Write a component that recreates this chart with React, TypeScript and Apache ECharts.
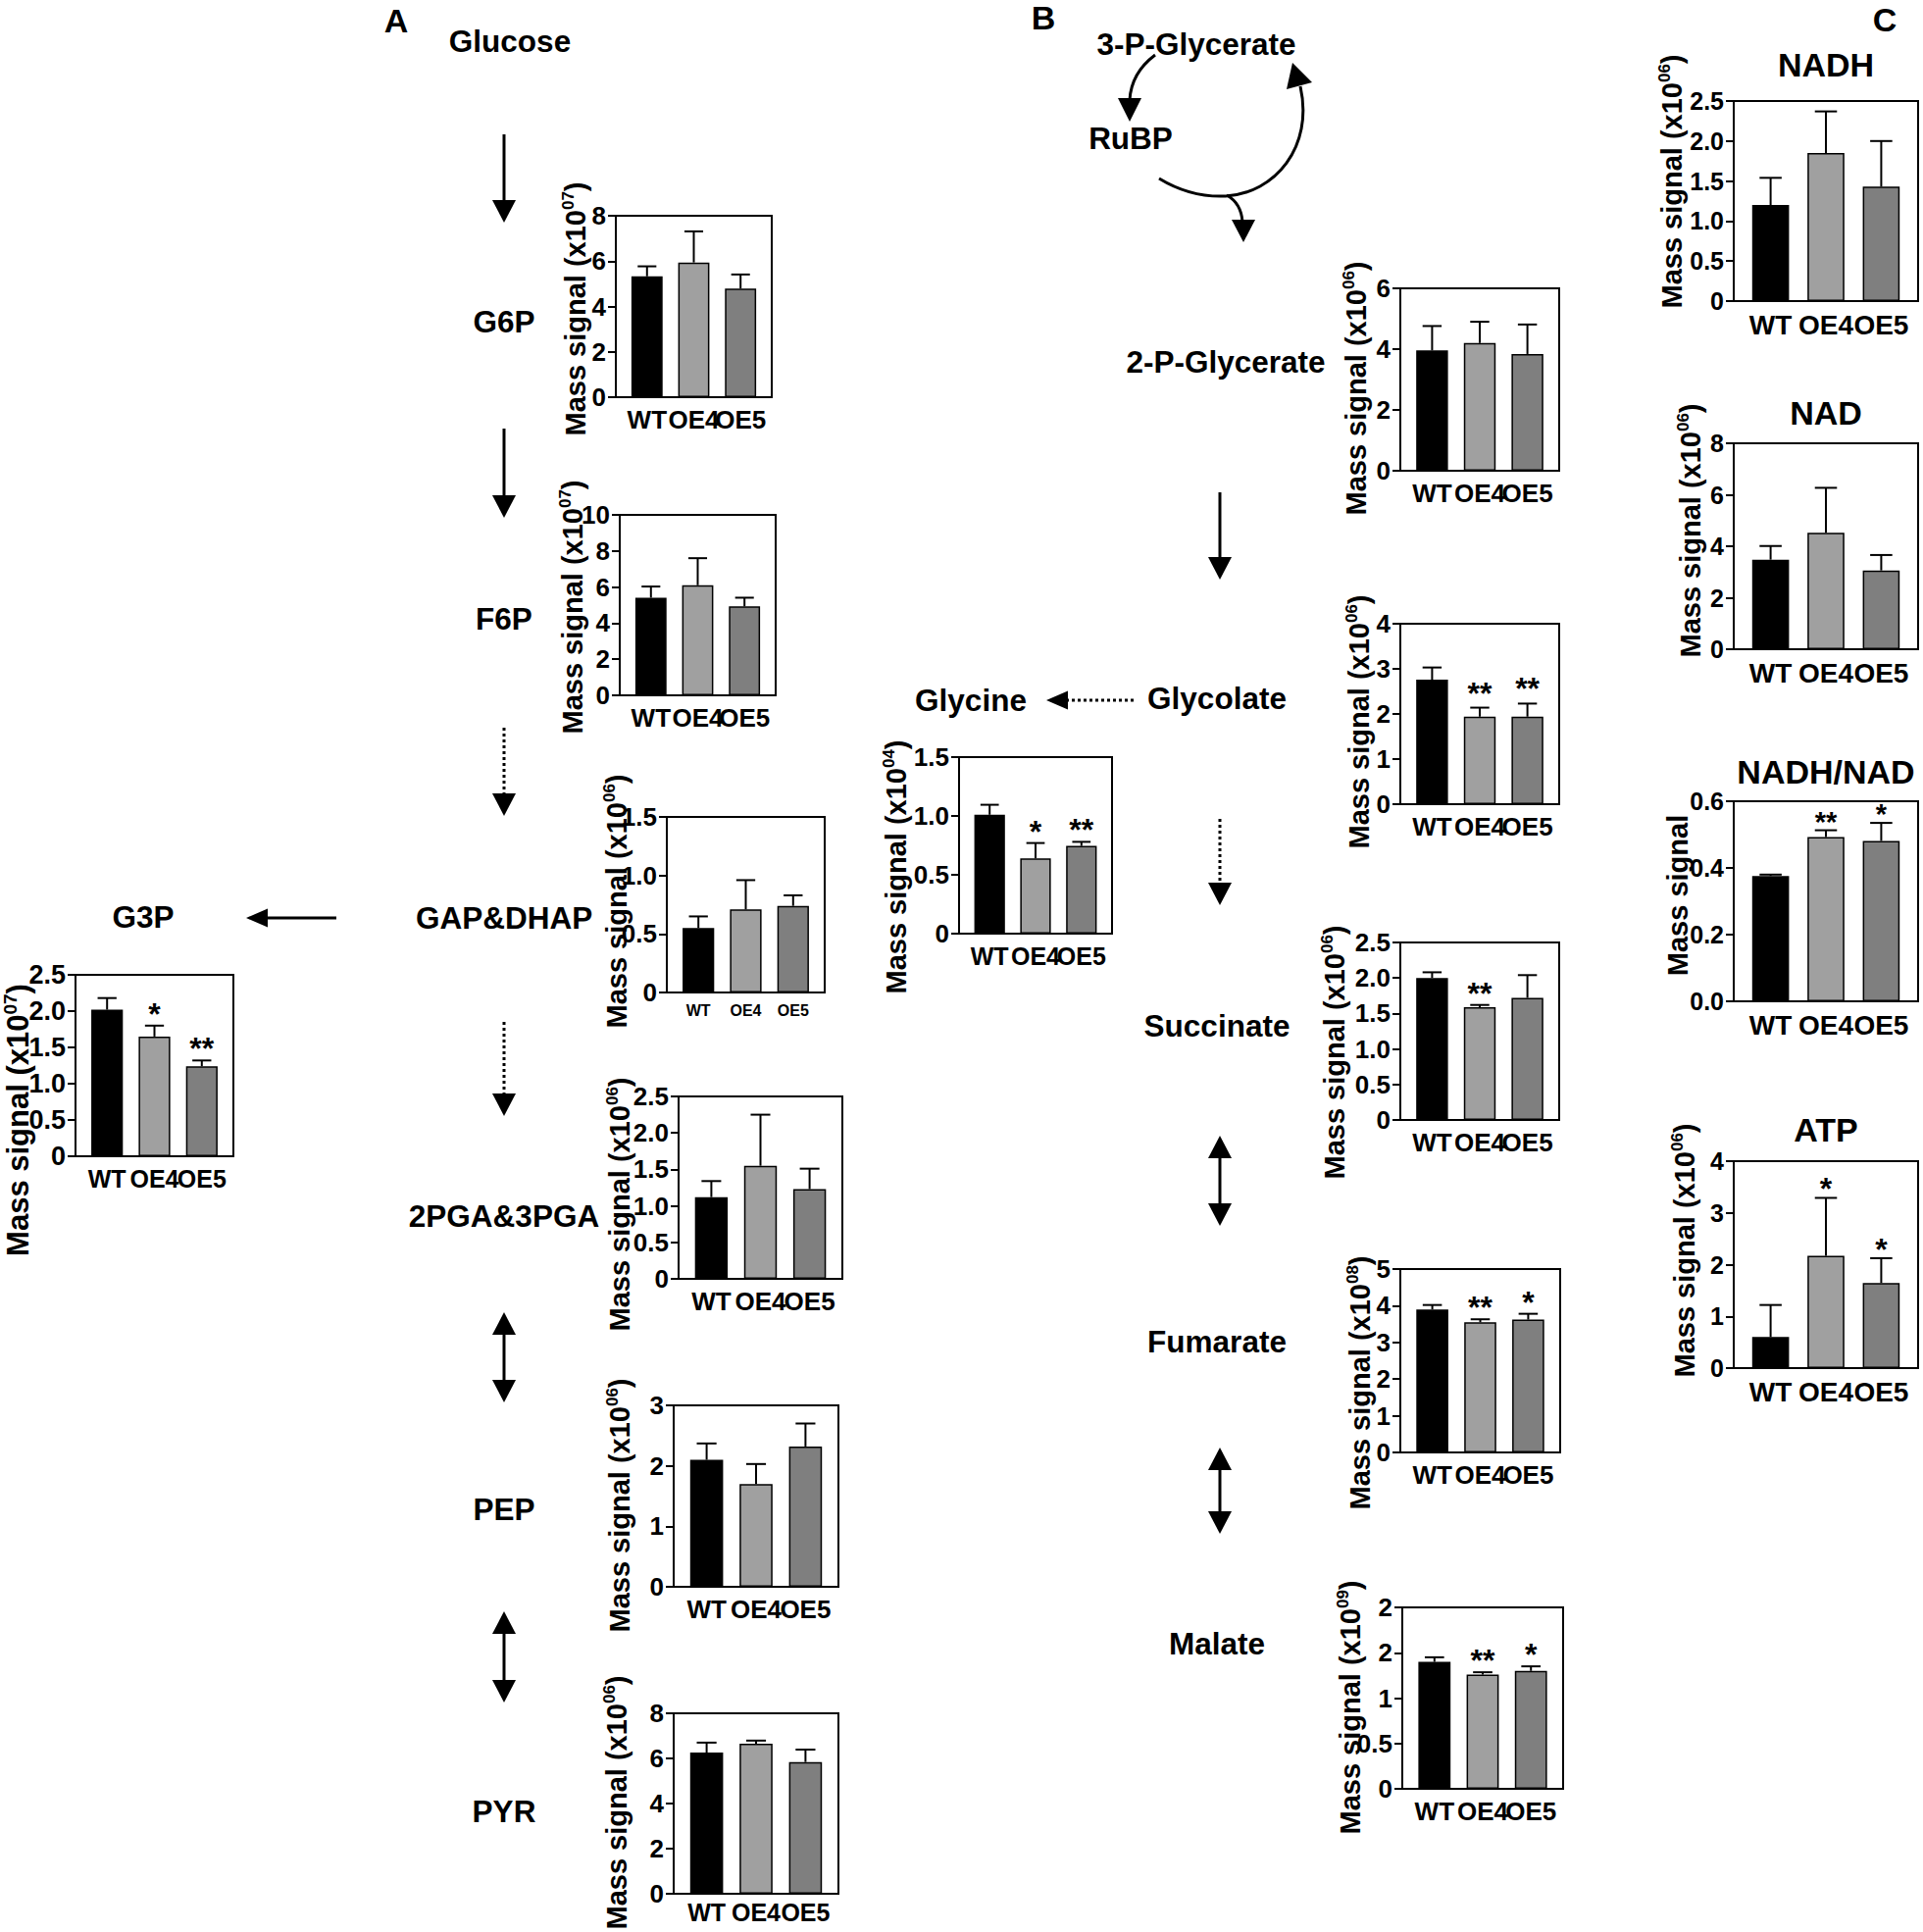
import React, { useEffect, useRef } from "react";
import * as echarts from "echarts";

const FF = "'Liberation Sans', Arial, Helvetica, sans-serif";

// ---------- data ----------
const groups = ["WT", "OE4", "OE5"];
const barColors = ["#000000", "#a0a0a0", "#7f7f7f"];

const g6pMean = [5.33, 5.94, 4.79];
const g6pErr = [0.44, 1.37, 0.62];
const f6pMean = [5.41, 6.1, 4.93];
const f6pErr = [0.62, 1.5, 0.48];
const gapMean = [0.55, 0.71, 0.74];
const gapErr = [0.1, 0.25, 0.09];
const g3pMean = [2.02, 1.65, 1.24];
const g3pErr = [0.16, 0.15, 0.08];
const g3pStars = ["", "*", "**"];
const pgaMean = [1.12, 1.55, 1.23];
const pgaErr = [0.22, 0.7, 0.28];
const pepMean = [2.1, 1.7, 2.32];
const pepErr = [0.27, 0.33, 0.38];
const pyrMean = [6.26, 6.65, 5.84];
const pyrErr = [0.44, 0.14, 0.55];

const glycineMean = [1.01, 0.64, 0.745];
const glycineErr = [0.085, 0.13, 0.035];
const glycineStars = ["", "*", "**"];
const pg2Mean = [3.96, 4.2, 3.84];
const pg2Err = [0.8, 0.7, 0.97];
const glycolateMean = [2.76, 1.94, 1.94];
const glycolateErr = [0.27, 0.2, 0.29];
const glycolateStars = ["", "**", "**"];
const succMean = [2.0, 1.59, 1.72];
const succErr = [0.08, 0.03, 0.32];
const succStars = ["", "**", ""];
const fumMean = [3.9, 3.55, 3.62];
const fumErr = [0.12, 0.08, 0.16];
const fumStars = ["", "**", "*"];
const malMean = [1.4, 1.26, 1.3];
const malErr = [0.05, 0.025, 0.05];
const malStars = ["", "**", "*"];

const nadhMean = [1.2, 1.85, 1.43];
const nadhErr = [0.34, 0.52, 0.57];
const nadMean = [3.48, 4.52, 3.06];
const nadErr = [0.53, 1.75, 0.6];
const ratioMean = [0.376, 0.493, 0.481];
const ratioErr = [0.004, 0.02, 0.054];
const ratioStars = ["", "**", "*"];
const atpMean = [0.6, 2.17, 1.645];
const atpErr = [0.62, 1.12, 0.48];
const atpStars = ["", "*", "*"];

const noStars = ["", "", ""];

// tick labels
const ticks0to8 = ["0", "2", "4", "6", "8"];
const ticks0to10 = ["0", "2", "4", "6", "8", "10"];
const ticks0to15 = ["0", "0.5", "1.0", "1.5"];
const ticks0to25 = ["0", "0.5", "1.0", "1.5", "2.0", "2.5"];
const ticks0to3 = ["0", "1", "2", "3"];
const ticks0to6 = ["0", "2", "4", "6"];
const ticks0to4 = ["0", "1", "2", "3", "4"];
const ticks0to5 = ["0", "1", "2", "3", "4", "5"];
const ticksMalate = ["0", "0.5", "1", "2", "2"];
const ticksRatio = ["0.0", "0.2", "0.4", "0.6"];

// ---------- layout ----------
// the bar area is inset 5% of the frame width on each side (GraphPad style spacing)
const INSET = 0.05;

type Spec = {
  mean: number[];
  err: number[];
  stars: string[];
  ticks: string[];
  max: number;
  step: number;
  exp: string | null;
  box: [number, number, number, number];
  name: [number, number];
  nameSize?: number;
  tickSize?: number;
  xSize?: number;
  xMargin?: number;
  starSize?: number;
  starOff?: number;
  title?: string;
  titlePos?: [number, number];
};

const specs: Spec[] = [
  { mean: g6pMean, err: g6pErr, stars: noStars, ticks: ticks0to8, max: 8, step: 2, exp: "07", box: [628, 220, 787, 405], name: [587, 315] },
  { mean: f6pMean, err: f6pErr, stars: noStars, ticks: ticks0to10, max: 10, step: 2, exp: "07", box: [632, 525, 791, 709], name: [584, 619] },
  { mean: gapMean, err: gapErr, stars: noStars, ticks: ticks0to15, max: 1.5, step: 0.5, exp: "06", box: [680, 833, 841, 1012], name: [629, 919], xSize: 16 },
  { mean: g3pMean, err: g3pErr, stars: g3pStars, ticks: ticks0to25, max: 2.5, step: 0.5, exp: "07", box: [77, 994, 238, 1179], name: [18, 1142], nameSize: 31, xSize: 25, tickSize: 27 },
  { mean: pgaMean, err: pgaErr, stars: noStars, ticks: ticks0to25, max: 2.5, step: 0.5, exp: "06", box: [692, 1118, 859, 1304], name: [632, 1228] },
  { mean: pepMean, err: pepErr, stars: noStars, ticks: ticks0to3, max: 3, step: 1, exp: "06", box: [687, 1433, 855, 1618], name: [632, 1535] },
  { mean: pyrMean, err: pyrErr, stars: noStars, ticks: ticks0to8, max: 8, step: 2, exp: "06", box: [687, 1747, 855, 1931], name: [629, 1838], xSize: 25, xMargin: 6 },
  { mean: glycineMean, err: glycineErr, stars: glycineStars, ticks: ticks0to15, max: 1.5, step: 0.5, exp: "04", box: [978, 772, 1134, 952], name: [914, 884], xSize: 25 },
  { mean: pg2Mean, err: pg2Err, stars: noStars, ticks: ticks0to6, max: 6, step: 2, exp: "06", box: [1428, 294, 1590, 480], name: [1383, 396] },
  { mean: glycolateMean, err: glycolateErr, stars: glycolateStars, ticks: ticks0to4, max: 4, step: 1, exp: "06", box: [1428, 636, 1590, 820], name: [1386, 736], starOff: 15 },
  { mean: succMean, err: succErr, stars: succStars, ticks: ticks0to25, max: 2.5, step: 0.5, exp: "06", box: [1428, 961, 1590, 1142], name: [1361, 1073] },
  { mean: fumMean, err: fumErr, stars: fumStars, ticks: ticks0to5, max: 5, step: 1, exp: "08", box: [1428, 1294, 1591, 1481], name: [1387, 1410] },
  { mean: malMean, err: malErr, stars: malStars, ticks: ticksMalate, max: 2, step: 0.5, exp: "09", box: [1430, 1639, 1594, 1824], name: [1377, 1741] },
  { mean: nadhMean, err: nadhErr, stars: noStars, ticks: ticks0to25, max: 2.5, step: 0.5, exp: "06", box: [1768, 103, 1956, 307], name: [1705, 185], title: "NADH", titlePos: [1862, 66], xSize: 28, tickSize: 25 },
  { mean: nadMean, err: nadErr, stars: noStars, ticks: ticks0to8, max: 8, step: 2, exp: "06", box: [1768, 452, 1956, 662], name: [1724, 541], title: "NAD", titlePos: [1862, 421], xSize: 28, tickSize: 25 },
  { mean: ratioMean, err: ratioErr, stars: ratioStars, ticks: ticksRatio, max: 0.6, step: 0.2, exp: null, box: [1768, 817, 1956, 1021], name: [1711, 913], title: "NADH/NAD", titlePos: [1862, 787], xSize: 28, tickSize: 25, starSize: 29, starOff: 9 },
  { mean: atpMean, err: atpErr, stars: atpStars, ticks: ticks0to4, max: 4, step: 1, exp: "06", box: [1768, 1184, 1956, 1395], name: [1718, 1275], title: "ATP", titlePos: [1862, 1152], xSize: 28, tickSize: 25, starOff: 9 },
];

// pathway labels
const labels: [string, number, number][] = [
  ["Glucose", 520, 42],
  ["G6P", 514, 328],
  ["F6P", 514, 631],
  ["GAP&DHAP", 514, 936],
  ["G3P", 146, 935],
  ["2PGA&3PGA", 514, 1240],
  ["PEP", 514, 1539],
  ["PYR", 514, 1847],
  ["3-P-Glycerate", 1220, 45],
  ["RuBP", 1153, 141],
  ["2-P-Glycerate", 1250, 369],
  ["Glycolate", 1241, 712],
  ["Glycine", 990, 714],
  ["Succinate", 1241, 1046],
  ["Fumarate", 1241, 1368],
  ["Malate", 1241, 1676],
];
const panelLetters: [string, number, number][] = [
  ["A", 404, 21],
  ["B", 1064, 18],
  ["C", 1922, 20],
];

// ---------- helpers ----------
const black = "#000";

function vArrow(x: number, y1: number, y2: number, dotted: boolean, dbl: boolean): any[] {
  const hl = 23;
  const hw = 12;
  const dir = y2 > y1 ? 1 : -1;
  const els: any[] = [];
  const ls = dbl ? y1 + dir * hl : y1;
  const le = y2 - dir * hl;
  els.push({
    type: "line",
    shape: { x1: x, y1: ls, x2: x, y2: le },
    style: { stroke: black, lineWidth: 3, lineDash: dotted ? [3, 3] : null },
  });
  els.push({
    type: "polygon",
    shape: { points: [[x, y2], [x - hw, y2 - dir * hl], [x + hw, y2 - dir * hl]] },
    style: { fill: black },
  });
  if (dbl) {
    els.push({
      type: "polygon",
      shape: { points: [[x, y1], [x - hw, y1 + dir * hl], [x + hw, y1 + dir * hl]] },
      style: { fill: black },
    });
  }
  return els;
}

function hArrow(x1: number, x2: number, y: number, dotted: boolean): any[] {
  const hl = 22;
  const hw = 9.5;
  const dir = x2 > x1 ? 1 : -1;
  return [
    {
      type: "line",
      shape: { x1: x1, y1: y, x2: x2 - dir * hl, y2: y },
      style: { stroke: black, lineWidth: 3, lineDash: dotted ? [3, 3] : null },
    },
    {
      type: "polygon",
      shape: { points: [[x2, y], [x2 - dir * hl, y - hw], [x2 - dir * hl, y + hw]] },
      style: { fill: black },
    },
  ];
}

function text(t: string, x: number, y: number, size: number): any {
  return {
    type: "text",
    x,
    y,
    style: {
      text: t,
      fill: black,
      fontSize: size,
      fontWeight: "bold",
      fontFamily: FF,
      align: "center",
      verticalAlign: "middle",
    },
  };
}

function errRender(stars: string[], starSize: number, starOff: number) {
  return (params: any, api: any) => {
    const i = api.value(0);
    const m = api.value(1);
    const e = api.value(2);
    const p0 = api.coord([i, m]);
    const p1 = api.coord([i, m + e]);
    const band = api.size([1, 0])[0];
    const hw = band * 0.2;
    const children: any[] = [
      { type: "line", shape: { x1: p0[0], y1: p0[1], x2: p1[0], y2: p1[1] }, style: { stroke: black, lineWidth: 2 } },
      { type: "line", shape: { x1: p1[0] - hw, y1: p1[1], x2: p1[0] + hw, y2: p1[1] }, style: { stroke: black, lineWidth: 2 } },
    ];
    const s = stars[params.dataIndex];
    if (s) {
      children.push({
        type: "text",
        x: p1[0],
        y: p1[1] - starOff,
        style: {
          text: s,
          fill: black,
          fontSize: starSize,
          fontWeight: "bold",
          fontFamily: FF,
          align: "center",
          verticalAlign: "middle",
        },
      });
    }
    return { type: "group", children };
  };
}

function buildOption(): any {
  const grid: any[] = [];
  const xAxis: any[] = [];
  const yAxis: any[] = [];
  const series: any[] = [];
  const graphic: any[] = [];

  specs.forEach((s, k) => {
    const [l, t, r, b] = s.box;
    const w = r - l;
    const h = b - t;
    const ticks = s.ticks;
    const step = s.step;
    const fi = 2 * k; // frame grid
    const pi = 2 * k + 1; // plot grid (inset)

    // frame grid: border + y axis with ticks and labels
    grid.push({
      left: l,
      top: t,
      width: w,
      height: h,
      show: true,
      borderColor: black,
      borderWidth: 2,
      backgroundColor: "transparent",
    });
    xAxis.push({
      gridIndex: fi,
      type: "value",
      min: 0,
      max: 1,
      show: false,
    });
    yAxis.push({
      gridIndex: fi,
      type: "value",
      min: 0,
      max: s.max,
      interval: step,
      splitLine: { show: false },
      axisLine: { show: true, onZero: false, lineStyle: { color: black, width: 2 } },
      axisTick: { show: true, length: 8, lineStyle: { color: black, width: 2 } },
      axisLabel: {
        color: black,
        fontWeight: "bold",
        fontFamily: FF,
        fontSize: s.tickSize ?? 26,
        margin: 10,
        formatter: (v: number) => ticks[Math.round(v / step)] ?? "",
      },
    });

    // plot grid: bars and category labels
    grid.push({
      left: l + w * INSET,
      top: t,
      width: w * (1 - 2 * INSET),
      height: h,
      show: false,
    });
    xAxis.push({
      gridIndex: pi,
      type: "category",
      data: groups,
      axisLine: { show: false },
      axisTick: { alignWithLabel: true, length: 8, lineStyle: { color: black, width: 2 } },
      axisLabel: {
        interval: 0,
        color: black,
        fontWeight: "bold",
        fontFamily: FF,
        fontSize: s.xSize ?? 26,
        margin: s.xMargin ?? 10,
      },
    });
    yAxis.push({
      gridIndex: pi,
      type: "value",
      min: 0,
      max: s.max,
      interval: step,
      show: false,
      splitLine: { show: false },
    });
    series.push({
      type: "bar",
      xAxisIndex: pi,
      yAxisIndex: pi,
      barWidth: "66.7%",
      itemStyle: { borderColor: black, borderWidth: 1.5 },
      data: s.mean.map((v, j) => ({ value: v, itemStyle: { color: barColors[j] } })),
      z: 2,
    });
    series.push({
      type: "custom",
      xAxisIndex: pi,
      yAxisIndex: pi,
      renderItem: errRender(s.stars, s.starSize ?? 32, s.starOff ?? 12),
      data: s.mean.map((v, j) => [j, v, s.err[j]]),
      encode: { x: 0, y: 1 },
      z: 3,
    });

    // axis name
    const nameSize = s.nameSize ?? 29;
    const supSize = Math.round(nameSize * 0.6);
    graphic.push({
      type: "text",
      x: s.name[0],
      y: s.name[1],
      rotation: Math.PI / 2,
      style: {
        text: s.exp ? "{n|Mass signal (x10}{s|" + s.exp + "}{n|)}" : "{n|Mass signal}",
        align: "center",
        verticalAlign: "middle",
        fill: black,
        rich: {
          n: { fontSize: nameSize, fontWeight: "bold", fontFamily: FF, fill: black, lineHeight: nameSize + 4 },
          s: { fontSize: supSize, fontWeight: "bold", fontFamily: FF, fill: black, verticalAlign: "top", lineHeight: supSize + 2 },
        },
      },
    });
    if (s.title && s.titlePos) {
      graphic.push(text(s.title, s.titlePos[0], s.titlePos[1], 34));
    }
  });

  labels.forEach(([t, x, y]) => graphic.push(text(t, x, y, 31.5)));
  panelLetters.forEach(([t, x, y]) => graphic.push(text(t, x, y, 34)));

  // panel A arrows
  graphic.push(...vArrow(514, 137, 227, false, false));
  graphic.push(...vArrow(514, 437, 528, false, false));
  graphic.push(...vArrow(514, 742, 832, true, false));
  graphic.push(...vArrow(514, 1042, 1138, true, false));
  graphic.push(...vArrow(514, 1338, 1430, false, true));
  graphic.push(...vArrow(514, 1643, 1736, false, true));
  graphic.push(...hArrow(343, 251, 936, false));

  // panel B arrows
  graphic.push(...vArrow(1244, 502, 591, false, false));
  graphic.push(...vArrow(1244, 835, 923, true, false));
  graphic.push(...vArrow(1244, 1158, 1250, false, true));
  graphic.push(...vArrow(1244, 1476, 1564, false, true));
  graphic.push(...hArrow(1156, 1067, 714, true));

  // Calvin cycle arcs
  const cs = { stroke: black, lineWidth: 3, fill: null };
  graphic.push({
    type: "bezierCurve",
    shape: { x1: 1178, y1: 56, cpx1: 1162, cpy1: 68, cpx2: 1153, cpy2: 84, x2: 1152, y2: 102 },
    style: cs,
  });
  graphic.push({
    type: "polygon",
    shape: { points: [[1152, 124], [1140, 100], [1164, 100]] },
    style: { fill: black },
  });
  graphic.push({
    type: "bezierCurve",
    shape: { x1: 1182, y1: 182, cpx1: 1205, cpy1: 196, cpx2: 1228, cpy2: 201, x2: 1250, y2: 200 },
    style: cs,
  });
  graphic.push({
    type: "bezierCurve",
    shape: { x1: 1250, y1: 200, cpx1: 1300, cpy1: 197, cpx2: 1340, cpy2: 150, x2: 1326, y2: 88 },
    style: cs,
  });
  graphic.push({
    type: "polygon",
    shape: { points: [[1318, 64], [1312, 91], [1338, 84]] },
    style: { fill: black },
  });
  graphic.push({
    type: "bezierCurve",
    shape: { x1: 1251, y1: 199, cpx1: 1260, cpy1: 204, cpx2: 1266, cpy2: 213, x2: 1267, y2: 226 },
    style: cs,
  });
  graphic.push({
    type: "polygon",
    shape: { points: [[1268, 247], [1256, 224], [1280, 224]] },
    style: { fill: black },
  });

  return {
    animation: false,
    backgroundColor: "#ffffff",
    grid,
    xAxis,
    yAxis,
    series,
    graphic: { elements: graphic },
  };
}

export default function App() {
  const ref = useRef<HTMLDivElement>(null);
  useEffect(() => {
    document.body.style.margin = "0";
    if (!ref.current) return;
    const chart = echarts.init(ref.current, undefined, { renderer: "svg" });
    chart.setOption(buildOption());
    return () => {
      chart.dispose();
    };
  }, []);
  return (
    <div
      ref={ref}
      style={{ position: "fixed", left: 0, top: 0, width: 1961, height: 1970, background: "#fff" }}
    />
  );
}
